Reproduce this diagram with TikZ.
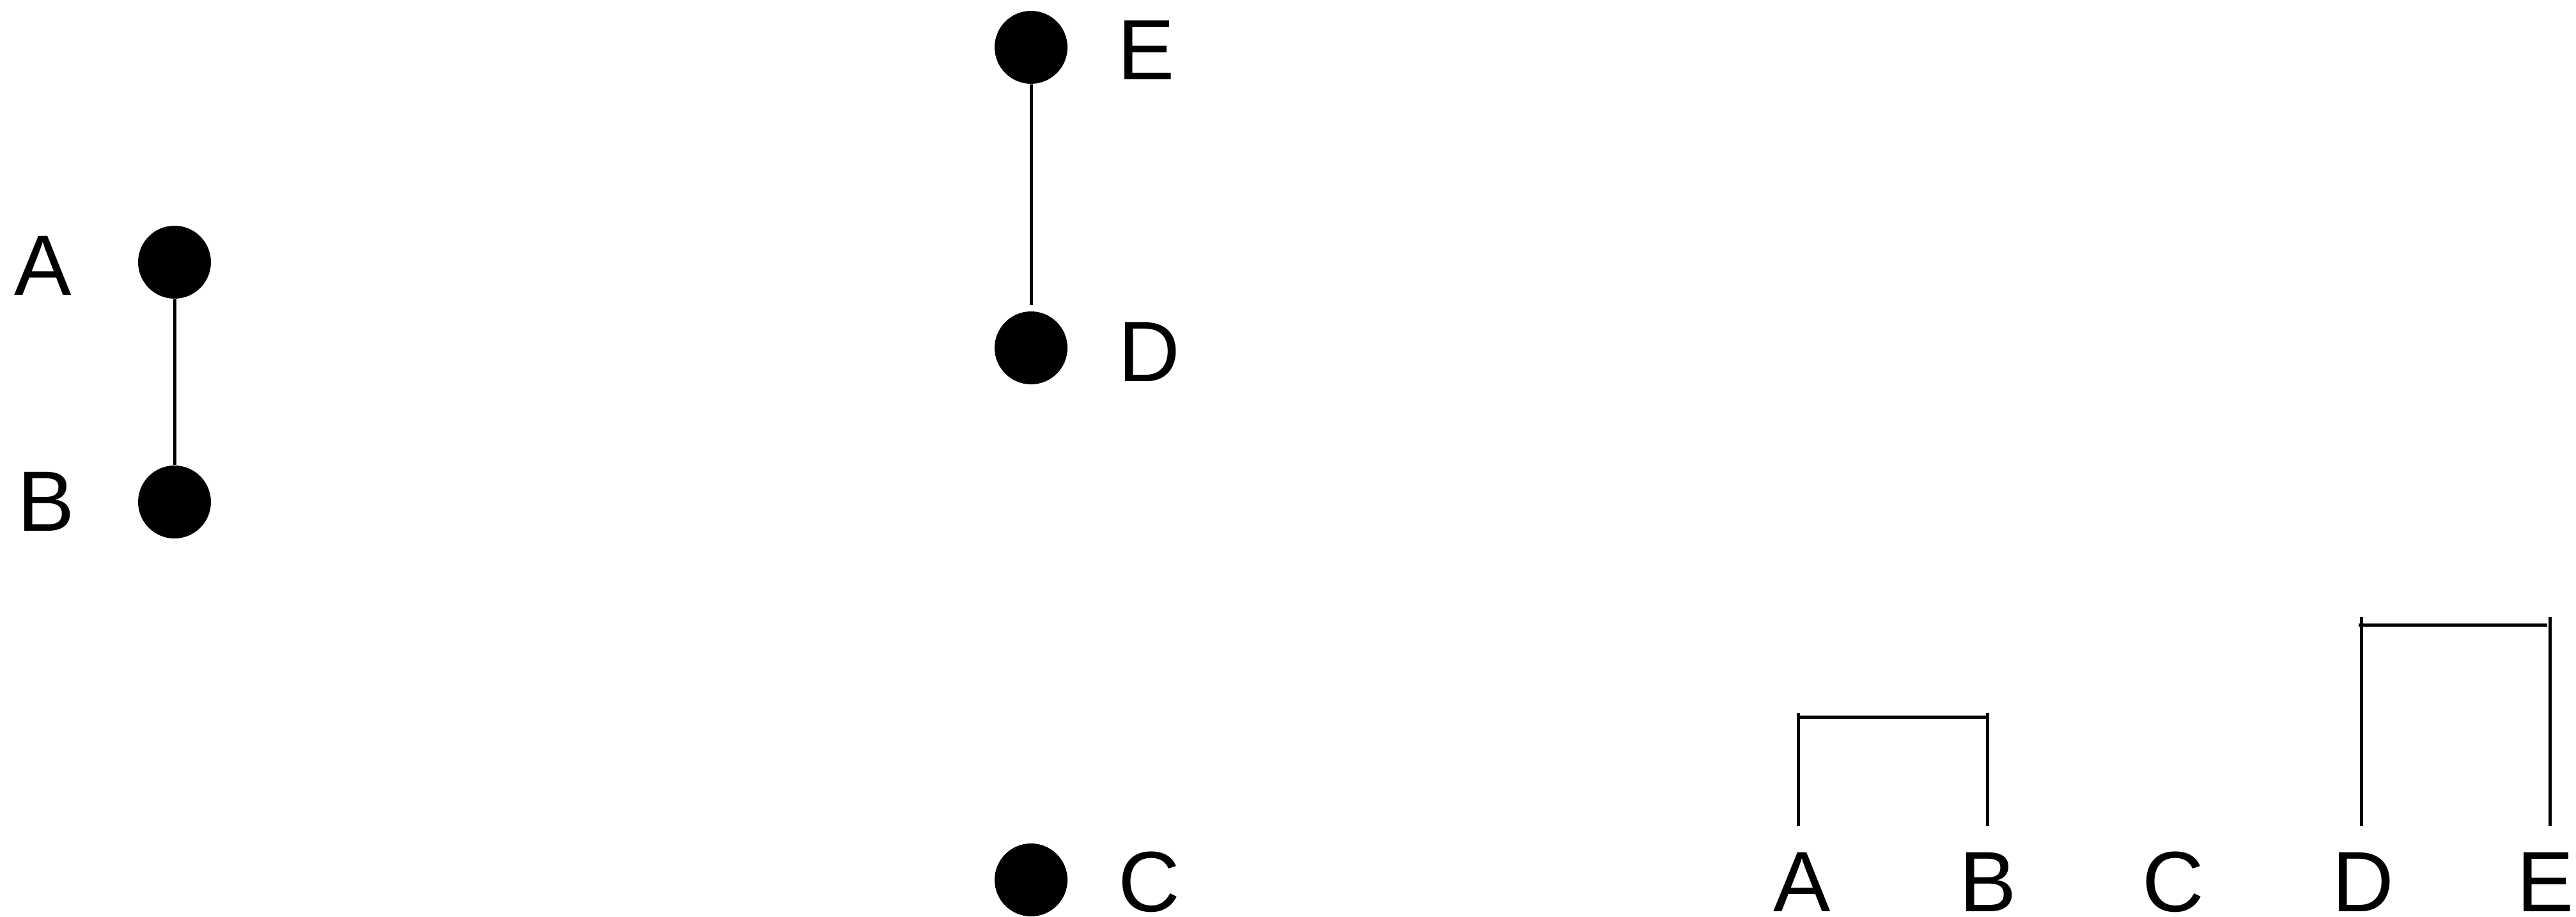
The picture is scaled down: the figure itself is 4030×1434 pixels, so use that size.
\documentclass[tikz,border=0pt]{standalone}
\usepackage{fontspec}
\setmainfont{Liberation Sans}
\begin{document}
\begin{tikzpicture}[x=0.25pt,y=-0.25pt,
  dot/.style={circle,fill=black,draw=none,minimum size=28.5pt,inner sep=0pt},
  lbl/.style={anchor=base,inner sep=0pt,font=\fontsize{33.5}{40}\selectfont},
  ln/.style={line width=1.25pt,black}]
\useasboundingbox (0,0) rectangle (4030,1434);
% graph
\node[dot] (A) at (273,410) {};
\node[dot] (B) at (273,785) {};
\node[dot] (E) at (1613,74) {};
\node[dot] (D) at (1613,544) {};
\node[dot] (C) at (1613,1376) {};
\node[lbl] (tA) at (67,461) {A};
\node[lbl] (tB) at (72,830) {B};
\node[lbl] (tE) at (1793,125) {E};
\node[lbl] (tD) at (1798,596) {D};
\node[lbl] (tC) at (1798,1425) {C};
\draw[ln] (A.south) -- (B.north);
\draw[ln,shorten >=2.25pt] (E.south) -- (D.north);
% dendrogram
\node[lbl] (la) at (2819,1425) {A};
\node[lbl] (lb) at (3110,1425) {B};
\node[lbl] (lc) at (3400,1425) {C};
\node[lbl] (ld) at (3697,1425) {D};
\node[lbl] (le) at (3982,1425) {E};
\coordinate (a0) at (2813,1292); \coordinate (a1) at (2813,1115);
\coordinate (b0) at (3109,1292); \coordinate (b1) at (3109,1115);
\coordinate (d0) at (3694,1292); \coordinate (d1) at (3694,965);
\coordinate (e0) at (3989,1292); \coordinate (e1) at (3989,965);
\coordinate (ab0) at (2813,1121); \coordinate (ab1) at (3109,1121);
\coordinate (de0) at (3690,977); \coordinate (de1) at (3985,977);
\draw[ln] (a0) -- (a1);
\draw[ln] (b0) -- (b1);
\draw[ln] (d0) -- (d1);
\draw[ln] (e0) -- (e1);
\draw[ln] (ab0) -- (ab1);
\draw[ln] (de0) -- (de1);
\end{tikzpicture}
\end{document}
